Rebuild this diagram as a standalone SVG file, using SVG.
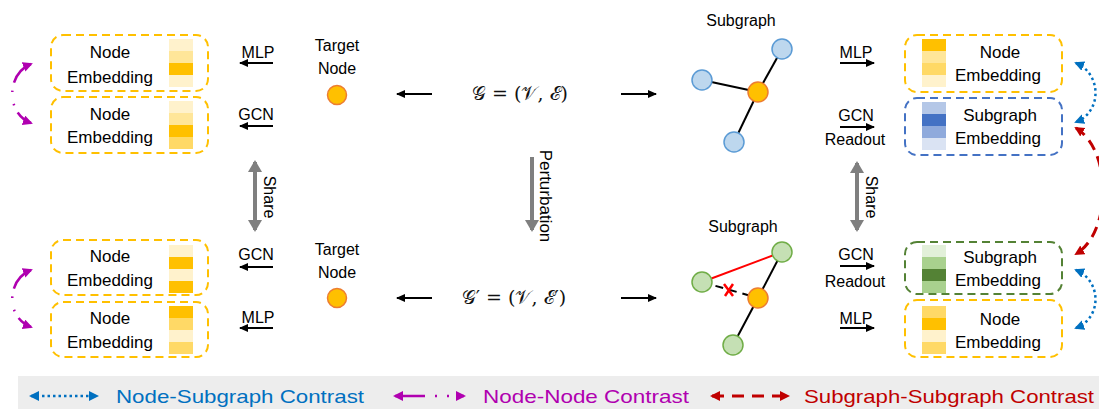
<svg xmlns="http://www.w3.org/2000/svg" width="1099" height="409" viewBox="0 0 1099 409">
<style>
text{font-family:"Liberation Sans",Arial,sans-serif;fill:#000}
.lbl{font-size:16px;text-anchor:middle}
.emb{font-size:17px;text-anchor:middle}
.math{font-family:"DejaVu Serif","Liberation Serif",serif;font-size:19px;text-anchor:middle;fill:#111}
.pr{font-family:"DejaVu Sans","Liberation Sans",sans-serif}
.yb{fill:none;stroke:#FFC000;stroke-width:2;stroke-dasharray:8 5}
.bb{fill:none;stroke:#4472C4;stroke-width:2;stroke-dasharray:8 5}
.gb{fill:none;stroke:#548235;stroke-width:2;stroke-dasharray:8 5}
.blk{stroke:#000;stroke-width:2;fill:none}
.gray{stroke:#7F7F7F;stroke-width:4;fill:none}
.edge{stroke:#000;stroke-width:2}
.bn{fill:#BDD7EE;stroke:#5B9BD5;stroke-width:1.5}
.gn{fill:#C5E0B4;stroke:#70AD47;stroke-width:1.5}
.on{fill:#FFC000;stroke:#ED7D31;stroke-width:1.5}
.pur{fill:none;stroke:#B000B0;stroke-width:2.5}
.blu{fill:none;stroke:#0070C0;stroke-width:2.5;stroke-dasharray:2.5 3}
.red{fill:none;stroke:#C00000;stroke-width:3;stroke-dasharray:11 7}
</style>
<defs>
<marker id="ab" markerUnits="userSpaceOnUse" markerWidth="10" markerHeight="10" refX="8" refY="4" orient="auto"><path d="M0,0 L9,4 L0,8 Z" fill="#000"/></marker>
<marker id="ag" markerUnits="userSpaceOnUse" markerWidth="14" markerHeight="14" refX="10" refY="7" orient="auto-start-reverse"><path d="M0,0 L12,7 L0,14 Z" fill="#7F7F7F"/></marker>
<marker id="ap" markerUnits="userSpaceOnUse" markerWidth="12" markerHeight="12" refX="8" refY="5" orient="auto-start-reverse"><path d="M0,0 L10,5 L0,10 Z" fill="#B000B0"/></marker>
<marker id="abl" markerUnits="userSpaceOnUse" markerWidth="12" markerHeight="12" refX="8" refY="5" orient="auto-start-reverse"><path d="M0,0 L10,5 L0,10 Z" fill="#0070C0"/></marker>
<marker id="ar" markerUnits="userSpaceOnUse" markerWidth="12" markerHeight="12" refX="8" refY="5" orient="auto-start-reverse"><path d="M0,0 L10,5 L0,10 Z" fill="#C00000"/></marker>
</defs>

<!-- Left node embeddings -->
<g id="left-emb-1">
<rect class="yb" x="51" y="35" width="157" height="56" rx="12"/>
<rect x="169" y="39" width="24" height="12" fill="#FFF2CC"/><rect x="169" y="51" width="24" height="12" fill="#FFE699"/><rect x="169" y="63" width="24" height="12" fill="#FFC000"/><rect x="169" y="75" width="24" height="12" fill="#FFF2CC"/>
<text class="emb" x="110" y="58">Node</text><text class="emb" x="110" y="83">Embedding</text>
</g>
<g id="left-emb-2">
<rect class="yb" x="51" y="97" width="157" height="56" rx="12"/>
<rect x="169" y="101" width="24" height="12" fill="#FFF2CC"/><rect x="169" y="113" width="24" height="12" fill="#FFE699"/><rect x="169" y="125" width="24" height="12" fill="#FFC000"/><rect x="169" y="137" width="24" height="12" fill="#FFD966"/>
<text class="emb" x="110" y="120">Node</text><text class="emb" x="110" y="143">Embedding</text>
</g>
<g id="left-emb-3">
<rect class="yb" x="51" y="240" width="157" height="55" rx="12"/>
<rect x="169" y="245" width="24" height="12" fill="#FFF2CC"/><rect x="169" y="257" width="24" height="12" fill="#FFC000"/><rect x="169" y="269" width="24" height="12" fill="#FFF2CC"/><rect x="169" y="281" width="24" height="12" fill="#FFC000"/>
<text class="emb" x="110" y="262">Node</text><text class="emb" x="110" y="286">Embedding</text>
</g>
<g id="left-emb-4">
<rect class="yb" x="51" y="302" width="157" height="55" rx="12"/>
<rect x="169" y="306" width="24" height="12" fill="#FFC000"/><rect x="169" y="318" width="24" height="12" fill="#FFD966"/><rect x="169" y="330" width="24" height="12" fill="#FFF2CC"/><rect x="169" y="342" width="24" height="12" fill="#FFD966"/>
<text class="emb" x="110" y="324">Node</text><text class="emb" x="110" y="348">Embedding</text>
</g>

<!-- Target nodes -->
<g id="target-top">
<text class="lbl" x="337" y="51">Target</text><text class="lbl" x="337" y="74">Node</text>
<circle class="on" cx="337" cy="95" r="9.5"/>
</g>
<g id="target-bottom">
<text class="lbl" x="337" y="255">Target</text><text class="lbl" x="337" y="278">Node</text>
<circle class="on" cx="337" cy="298" r="9.5"/>
</g>

<!-- Graphs -->
<g id="graph-top"><text class="math" x="520" y="100">𝒢 = (𝒱, ℰ)</text></g>
<g id="graph-bottom"><text class="math" x="514" y="304">𝒢<tspan class="pr">′</tspan> = (𝒱, ℰ<tspan class="pr">′</tspan>)</text></g>

<!-- Subgraph top -->
<g id="subgraph-top">
<text class="lbl" x="741" y="26">Subgraph</text>
<line class="edge" x1="782" y1="49" x2="758" y2="92"/>
<line class="edge" x1="702" y1="80" x2="758" y2="92"/>
<line class="edge" x1="734" y1="142" x2="758" y2="92"/>
<circle class="bn" cx="782" cy="49" r="10"/>
<circle class="bn" cx="702" cy="80" r="10"/>
<circle class="bn" cx="734" cy="142" r="10"/>
<circle class="on" cx="758" cy="92" r="10"/>
</g>
<!-- Subgraph bottom -->
<g id="subgraph-bottom">
<text class="lbl" x="743" y="232">Subgraph</text>
<line x1="702" y1="282" x2="782" y2="252" stroke="#FF0000" stroke-width="2"/>
<line x1="702" y1="282" x2="758" y2="298" stroke="#000" stroke-width="2" stroke-dasharray="8 6"/>
<line class="edge" x1="782" y1="252" x2="758" y2="298"/>
<line class="edge" x1="733" y1="345" x2="758" y2="298"/>
<path d="M724,284 L733,296 M733,284 L725,296" stroke="#FF0000" stroke-width="2.5" fill="none"/>
<circle class="gn" cx="782" cy="252" r="10"/>
<circle class="gn" cx="702" cy="282" r="10"/>
<circle class="gn" cx="733" cy="345" r="10"/>
<circle class="on" cx="758" cy="298" r="10"/>
</g>

<!-- Right embeddings -->
<g id="right-emb-1">
<rect class="yb" x="905" y="35" width="157" height="57" rx="12"/>
<rect x="922" y="39" width="24" height="12" fill="#FFC000"/><rect x="922" y="51" width="24" height="12" fill="#FFE699"/><rect x="922" y="63" width="24" height="12" fill="#FFD966"/><rect x="922" y="75" width="24" height="12" fill="#FFF2CC"/>
<text class="emb" x="1000" y="58">Node</text><text class="emb" x="998" y="81">Embedding</text>
</g>
<g id="right-emb-2">
<rect class="bb" x="905" y="98" width="157" height="57" rx="12"/>
<rect x="922" y="102" width="24" height="12" fill="#B4C7E7"/><rect x="922" y="114" width="24" height="12" fill="#4472C4"/><rect x="922" y="126" width="24" height="12" fill="#8FAADC"/><rect x="922" y="138" width="24" height="12" fill="#DAE3F3"/>
<text class="emb" x="1000" y="121">Subgraph</text><text class="emb" x="998" y="144">Embedding</text>
</g>
<g id="right-emb-3">
<rect class="gb" x="905" y="242" width="157" height="52" rx="12"/>
<rect x="922" y="245" width="24" height="12" fill="#E2F0D9"/><rect x="922" y="257" width="24" height="12" fill="#A9D18E"/><rect x="922" y="269" width="24" height="12" fill="#548235"/><rect x="922" y="281" width="24" height="12" fill="#A9D18E"/>
<text class="emb" x="1000" y="263">Subgraph</text><text class="emb" x="998" y="286">Embedding</text>
</g>
<g id="right-emb-4">
<rect class="yb" x="905" y="300" width="157" height="57" rx="12"/>
<rect x="922" y="306" width="24" height="12" fill="#FFD966"/><rect x="922" y="318" width="24" height="12" fill="#FFC000"/><rect x="922" y="330" width="24" height="12" fill="#FFF2CC"/><rect x="922" y="342" width="24" height="12" fill="#FFD966"/>
<text class="emb" x="1000" y="325">Node</text><text class="emb" x="998" y="348">Embedding</text>
</g>

<!-- Connectors -->
<g id="connectors">
<text class="lbl" x="258" y="58">MLP</text>
<line class="blk" x1="273" y1="63" x2="240" y2="63" marker-end="url(#ab)"/>
<text class="lbl" x="256" y="120">GCN</text>
<line class="blk" x1="273" y1="126" x2="240" y2="126" marker-end="url(#ab)"/>
<text class="lbl" x="256" y="260">GCN</text>
<line class="blk" x1="273" y1="267" x2="240" y2="267" marker-end="url(#ab)"/>
<text class="lbl" x="258" y="323">MLP</text>
<line class="blk" x1="273" y1="328" x2="240" y2="328" marker-end="url(#ab)"/>

<line class="blk" x1="432" y1="94" x2="397" y2="94" marker-end="url(#ab)"/>
<line class="blk" x1="621" y1="94" x2="656" y2="94" marker-end="url(#ab)"/>
<line class="blk" x1="432" y1="298" x2="397" y2="298" marker-end="url(#ab)"/>
<line class="blk" x1="621" y1="298" x2="656" y2="298" marker-end="url(#ab)"/>

<text class="lbl" x="856" y="58">MLP</text>
<line class="blk" x1="840" y1="63" x2="874" y2="63" marker-end="url(#ab)"/>
<text class="lbl" x="856" y="121">GCN</text>
<line class="blk" x1="840" y1="127" x2="874" y2="127" marker-end="url(#ab)"/>
<text class="lbl" x="855" y="145">Readout</text>
<text class="lbl" x="856" y="260">GCN</text>
<line class="blk" x1="840" y1="266" x2="874" y2="266" marker-end="url(#ab)"/>
<text class="lbl" x="855" y="287">Readout</text>
<text class="lbl" x="856" y="324">MLP</text>
<line class="blk" x1="840" y1="328" x2="874" y2="328" marker-end="url(#ab)"/>

<line class="gray" x1="255" y1="162" x2="255" y2="230" marker-start="url(#ag)" marker-end="url(#ag)"/>
<text class="lbl" transform="translate(264,197) rotate(90)">Share</text>
<line class="gray" x1="532" y1="157" x2="532" y2="230" marker-end="url(#ag)"/>
<text class="lbl" transform="translate(540,196) rotate(90)" style="font-size:17px">Perturbation</text>
<line class="gray" x1="857" y1="163" x2="857" y2="230" marker-start="url(#ag)" marker-end="url(#ag)"/>
<text class="lbl" transform="translate(866,197) rotate(90)">Share</text>

<path class="pur" d="M31,64 C6,74 6,114 31,123" stroke-dasharray="26 8 1.5 12 1.5 8 40" marker-start="url(#ap)" marker-end="url(#ap)"/>
<path class="pur" d="M31,270 C6,280 6,318 31,327" stroke-dasharray="26 8 1.5 12 1.5 8 40" marker-start="url(#ap)" marker-end="url(#ap)"/>

<path class="blu" d="M1076,63 C1102,74 1102,112 1076,122" marker-start="url(#abl)" marker-end="url(#abl)"/>
<path class="blu" d="M1076,270 C1102,281 1102,318 1076,328" marker-start="url(#abl)" marker-end="url(#abl)"/>
<path class="red" d="M1076,128 C1112,150 1112,232 1076,254" marker-start="url(#ar)" marker-end="url(#ar)"/>
</g>

<!-- Legend -->
<g id="legend">
<rect x="18" y="376" width="1081" height="33" fill="#EDEDED"/>
<line x1="31" y1="396" x2="97" y2="396" stroke="#0070C0" stroke-width="2.5" stroke-dasharray="2.5 3" marker-start="url(#abl)" marker-end="url(#abl)"/>
<text x="116" y="403" style="font-size:19px;fill:#0070C0" textLength="248" lengthAdjust="spacingAndGlyphs">Node-Subgraph Contrast</text>
<line x1="395" y1="396" x2="464" y2="396" stroke="#B000B0" stroke-width="2.5" stroke-dasharray="30 10 2 10 2 8 20" marker-start="url(#ap)" marker-end="url(#ap)"/>
<text x="483" y="403" style="font-size:19px;fill:#B000B0" textLength="206" lengthAdjust="spacingAndGlyphs">Node-Node Contrast</text>
<line x1="712" y1="396" x2="788" y2="396" stroke="#C00000" stroke-width="3" stroke-dasharray="12 8" marker-start="url(#ar)" marker-end="url(#ar)"/>
<text x="804" y="403" style="font-size:19px;fill:#C00000" textLength="290" lengthAdjust="spacingAndGlyphs">Subgraph-Subgraph Contrast</text>
</g>
</svg>
